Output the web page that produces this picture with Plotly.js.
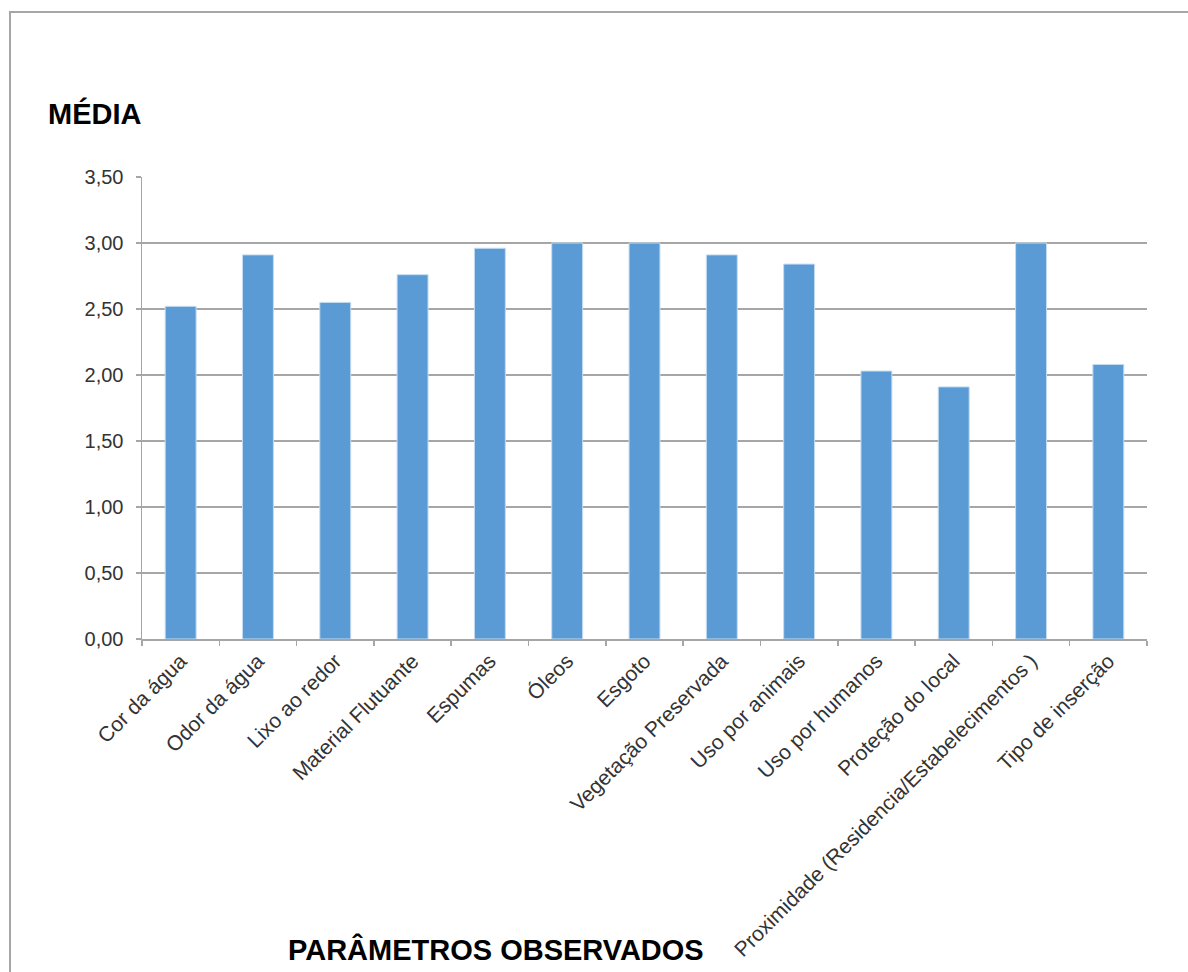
<!DOCTYPE html>
<html>
<head>
<meta charset="utf-8">
<script src="https://cdn.plot.ly/plotly-3.0.1.min.js"></script>
<style>
  html, body { margin: 0; padding: 0; background: #ffffff; }
  #chart { position: absolute; left: 0; top: 0; width: 1188px; height: 972px; }
  #frame { position: absolute; left: 9px; top: 11px; width: 1179px; height: 961px;
           border-left: 2px solid #a6a6a6; border-top: 2px solid #a6a6a6;
           box-sizing: border-box; pointer-events: none; }
</style>
</head>
<body>
<div id="chart"></div>
<div id="frame"></div>
<script>
const categories = [
  "Cor da água",
  "Odor da água",
  "Lixo ao redor",
  "Material Flutuante",
  "Espumas",
  "Óleos",
  "Esgoto",
  "Vegetação Preservada",
  "Uso por animais",
  "Uso por humanos",
  "Proteção do local",
  "Proximidade (Residencia/Estabelecimentos )",
  "Tipo de inserção"
];
const media = [2.52, 2.91, 2.55, 2.76, 2.96, 3.00, 3.00, 2.91, 2.84, 2.03, 1.91, 3.00, 2.08];
const yTickValues = [0, 0.5, 1, 1.5, 2, 2.5, 3, 3.5];
const yTickLabels = ["0,00", "0,50", "1,00", "1,50", "2,00", "2,50", "3,00", "3,50"];
const yTitle = "MÉDIA";
const xTitle = "PARÂMETROS OBSERVADOS";

const trace = {
  type: "bar",
  x: categories,
  y: media,
  marker: { color: "#5b9bd5", line: { color: "#c5dcf0", width: 1 } },
  hoverinfo: "x+y"
};

const layout = {
  width: 1188,
  height: 972,
  margin: { l: 142, r: 41, t: 177, b: 333 },
  paper_bgcolor: "#ffffff",
  plot_bgcolor: "#ffffff",
  showlegend: false,
  bargap: 0.6,
  font: { family: "Liberation Sans, Arial, sans-serif", color: "#333333", size: 20 },
  xaxis: {
    type: "category",
    showline: true,
    linecolor: "#a6a6a6",
    linewidth: 1.5,
    ticks: "outside",
    tickson: "boundaries",
    ticklen: 5,
    tickcolor: "#a6a6a6",
    tickwidth: 1.5,
    tickangle: -45,
    tickfont: { size: 21, color: "#333333" },
    showgrid: false,
    zeroline: false
  },
  yaxis: {
    range: [0, 3.5],
    tickvals: yTickValues,
    ticktext: yTickLabels,
    showline: true,
    linecolor: "#a6a6a6",
    linewidth: 1.5,
    ticks: "outside",
    ticklen: 5,
    tickcolor: "#a6a6a6",
    tickwidth: 1.5,
    ticklabelstandoff: 8,
    tickfont: { size: 20, color: "#333333" },
    showgrid: true,
    gridcolor: "#a6a6a6",
    gridwidth: 1.5,
    zeroline: false,
    fixedrange: true
  },
  annotations: [
    {
      text: "<b>" + yTitle + "</b>",
      xref: "paper", yref: "paper",
      x: -0.0955, y: 1.137,
      xanchor: "left", yanchor: "middle",
      showarrow: false,
      font: { family: "Liberation Sans, Arial, sans-serif", size: 29, color: "#000000" }
    },
    {
      text: "<b>" + xTitle + "</b>",
      xref: "paper", yref: "paper",
      x: 0.3522, y: -0.672,
      xanchor: "center", yanchor: "middle",
      showarrow: false,
      font: { family: "Liberation Sans, Arial, sans-serif", size: 29, color: "#000000" }
    }
  ]
};

Plotly.newPlot("chart", [trace], layout, { displayModeBar: false, staticPlot: true });
</script>
</body>
</html>
